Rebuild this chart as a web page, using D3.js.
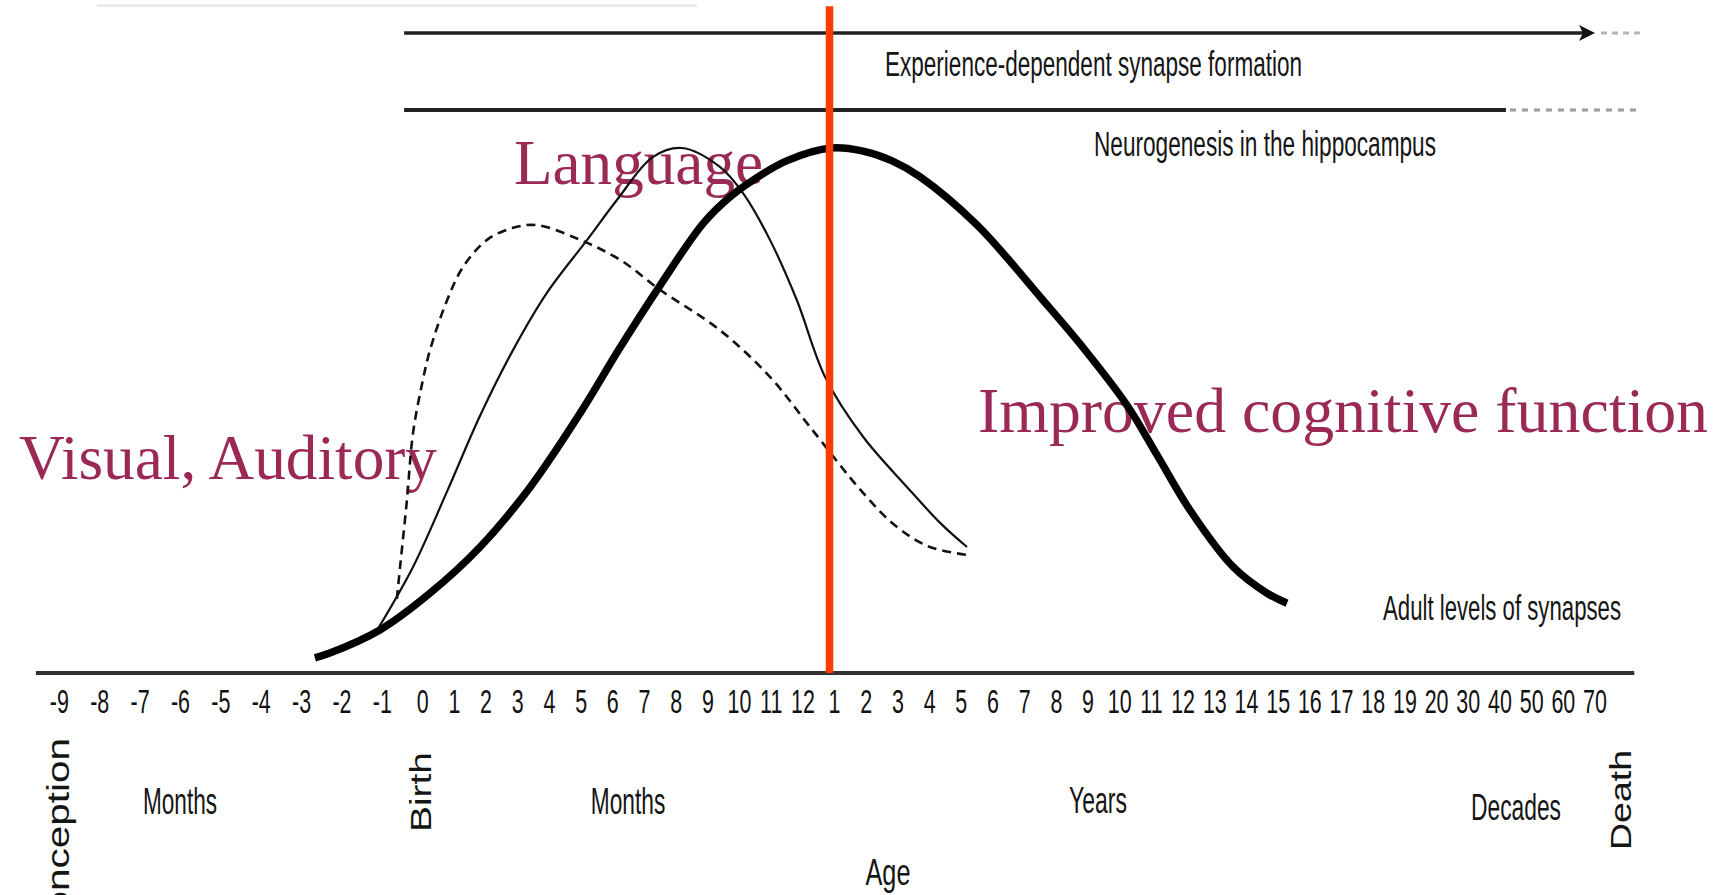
<!DOCTYPE html>
<html>
<head>
<meta charset="utf-8">
<script src="https://cdn.jsdelivr.net/npm/d3@7"></script>
<style>
  html, body { margin: 0; padding: 0; background: #fff; }
  svg { display: block; }
</style>
</head>
<body>
<svg id="chart" width="1721" height="895"></svg>
<script>
// ---------- DATA ----------
// Age axis tick labels (prenatal months, postnatal months, years, decades)
const ageTicks = ["-9","-8","-7","-6","-5","-4","-3","-2","-1","0",
  "1","2","3","4","5","6","7","8","9","10","11","12",
  "1","2","3","4","5","6","7","8","9","10","11","12","13","14","15","16","17","18","19","20",
  "30","40","50","60","70"];

// Curves: [position on age axis (tick index), relative synapse level 0-100]
const sensoryCurve = [ // Visual, Auditory (dashed)
  [8.36,14.1],[8.44,20.2],[8.61,33.0],[8.76,45.7],[8.98,54.9],[9.23,61.5],[9.77,71.0],
  [10.27,77.3],[11.03,82.5],[11.85,84.8],[12.61,85.3],[13.97,82.5],[15.23,78.7],
  [16.49,73.0],[18.38,65.3],[19.96,56.4],[21.22,46.9],[22.90,34.3],[23.97,27.8],
  [25.01,24.0],[26.18,22.5]];
const languageCurve = [ // Language (thin solid)
  [7.89,8.4],[8.76,20.2],[9.77,34.6],[10.81,49.0],[11.85,61.5],[12.92,72.4],[14.19,82.5],
  [15.13,90.1],[16.27,98.3],[17.18,100],[18.38,96.4],[19.11,91.4],[19.96,82.5],
  [20.81,71.0],[21.70,56.4],[22.90,45.0],[24.29,35.4],[25.33,28.6],[26.18,24.0]];
const cognitiveCurve = [ // Higher cognitive function (thick)
  [6.33,2.9],[6.70,3.8],[7.94,8.2],[9.23,15.2],[10.81,24.0],[12.39,35.4],[13.97,49.5],
  [15.23,62.0],[16.49,73.8],[17.86,85.7],[18.70,90.7],[19.43,93.9],[20.50,97.6],
  [21.9,100],[22.9,99.4],[23.8,97.6],[24.70,94.5],[26.50,85.3],[28.58,71.0],
  [29.84,62.0],[31.23,51.0],[32.18,41.5],[33.22,31.0],[34.58,20.2],[35.65,15.2],[36.28,13.3]];

// Annotation spans on the age axis
const experienceSpan = [8.54, 46.0];      // solid with arrow
const experienceDashed = [46.19, 47.46];
const neuroSpan = [8.54, 43.19];
const neuroDashed = [43.19, 47.46];
const axisExtent = [-0.58, 47.24];
const markerAge = 21.84;                  // red vertical marker (~1 year)
const faintSpan = [0.93, 17.66];

// Axis period labels
const periodLabels = [
  {text:"Months", cx:180, y:814, w:74},
  {text:"Months", cx:628, y:814, w:74.5},
  {text:"Years", cx:1098, y:813, w:58},
  {text:"Decades", cx:1516, y:820, w:90},
  {text:"Age", cx:888, y:885, w:45}
];
const verticalLabels = [
  {text:"Birth", cx:420, cy:792, len:80},
  {text:"Death", cx:1620, cy:800, len:100}
];
const lineLabels = [
  {text:"Experience-dependent synapse formation", x:885, y:76, w:417},
  {text:"Neurogenesis in the hippocampus", x:1094, y:156, w:342},
  {text:"Adult levels of synapses", x:1383, y:620, w:238}
];
const curveLabels = [
  {text:"Language", x:514, y:184, w:249},
  {text:"Visual, Auditory", x:19, y:479, w:418},
  {text:"Improved cognitive function", x:978, y:432, w:730}
];

// ---------- SCALES ----------
const svg = d3.select("#chart");
const x = d3.scaleLinear().domain([0, 9, 46]).range([59.3, 422.7, 1595]);
const y = d3.scaleLinear().domain([0, 100]).range([673, 148]);
const lineGen = d3.line().x(d => x(d[0])).y(d => y(d[1])).curve(d3.curveCatmullRom.alpha(0.5));

svg.append("rect").attr("width",1721).attr("height",895).attr("fill","#fff");

// faint artifact line top-left
svg.append("line").attr("x1",x(faintSpan[0])).attr("x2",x(faintSpan[1]))
  .attr("y1",5.5).attr("y2",5.5).attr("stroke","#e2e2e2").attr("stroke-width",2);

// ---------- Top annotation lanes ----------
const laneY1 = 33, laneY2 = 110;
const ax = x(experienceSpan[1]);
svg.append("line").attr("x1",x(experienceSpan[0])).attr("x2",ax - 6)
  .attr("y1",laneY1).attr("y2",laneY1).attr("stroke","#222").attr("stroke-width",3.5);
svg.append("path")
  .attr("d", `M${ax},${laneY1} L${ax-16},${laneY1-8} L${ax-12},${laneY1} L${ax-16},${laneY1+8} Z`)
  .attr("fill","#111");
svg.append("line").attr("x1",x(experienceDashed[0])).attr("x2",x(experienceDashed[1]))
  .attr("y1",laneY1).attr("y2",laneY1).attr("stroke","#b5b5b5").attr("stroke-width",3)
  .attr("stroke-dasharray","6,5");

svg.append("line").attr("x1",x(neuroSpan[0])).attr("x2",x(neuroSpan[1]))
  .attr("y1",laneY2).attr("y2",laneY2).attr("stroke","#222").attr("stroke-width",3.8);
svg.append("line").attr("x1",x(neuroDashed[0]) + 4).attr("x2",x(neuroDashed[1]))
  .attr("y1",laneY2).attr("y2",laneY2).attr("stroke","#9a9a9a").attr("stroke-width",3)
  .attr("stroke-dasharray","6,6");

// ---------- Text (gray, condensed) ----------
const sansFont = "'Liberation Sans', Arial, Helvetica, sans-serif";
lineLabels.forEach(l => {
  svg.append("text").attr("x",l.x).attr("y",l.y).text(l.text)
    .attr("font-family",sansFont).attr("font-size",35).attr("fill","#151515")
    .attr("textLength",l.w).attr("lengthAdjust","spacingAndGlyphs");
});
periodLabels.forEach(l => {
  svg.append("text").attr("x",l.cx - l.w/2).attr("y",l.y).text(l.text)
    .attr("font-family",sansFont).attr("font-size",36).attr("fill","#151515")
    .attr("textLength",l.w).attr("lengthAdjust","spacingAndGlyphs");
});
verticalLabels.forEach(l => {
  svg.append("text")
    .attr("transform",`translate(${l.cx},${l.cy}) scale(0.76,1) rotate(-90)`)
    .attr("x",-l.len/2).attr("y",0).attr("dy","0.36em").text(l.text)
    .attr("font-family",sansFont).attr("font-size",40).attr("fill","#151515")
    .attr("textLength",l.len).attr("lengthAdjust","spacingAndGlyphs");
});
// "Conception" (cut at the bottom edge, as in the source figure)
svg.append("text")
  .attr("transform",`translate(58,738) scale(0.76,1) rotate(-90)`)
  .attr("x",0).attr("y",0).attr("dy","0.36em").attr("text-anchor","end")
  .text("Conception")
  .attr("font-family",sansFont).attr("font-size",40.5).attr("fill","#151515");

// ---------- Maroon labels ----------
curveLabels.forEach(l => {
  svg.append("text").attr("x",l.x).attr("y",l.y).text(l.text)
    .attr("font-family","'Liberation Serif', 'Times New Roman', serif")
    .attr("font-size",64).attr("fill","#9a2955")
    .attr("textLength",l.w).attr("lengthAdjust","spacingAndGlyphs");
});

// ---------- Axis ----------
svg.append("line").attr("x1",x(axisExtent[0])).attr("x2",x(axisExtent[1]))
  .attr("y1",y(0)).attr("y2",y(0)).attr("stroke","#333").attr("stroke-width",4);

const axis = d3.axisBottom(x).tickValues(d3.range(ageTicks.length))
  .tickFormat(i => ageTicks[i]).tickSize(0).tickPadding(0);
const axG = svg.append("g").attr("transform","translate(0,713)").call(axis);
axG.select(".domain").remove();
axG.selectAll("text")
  .attr("y",0).attr("dy",0)
  .attr("transform","scale(0.67,1.03)")
  .attr("font-family",sansFont).attr("font-size",32).attr("fill","#111");
axG.selectAll(".tick").each(function(d){
  d3.select(this).attr("transform",`translate(${x(d)},0)`);
});

// ---------- Curves ----------
svg.append("path").datum(sensoryCurve).attr("d",lineGen)
  .attr("fill","none").attr("stroke","#111").attr("stroke-width",2.6)
  .attr("stroke-dasharray","9,6");
svg.append("path").datum(languageCurve).attr("d",lineGen)
  .attr("fill","none").attr("stroke","#111").attr("stroke-width",2.2);
svg.append("path").datum(cognitiveCurve).attr("d",lineGen)
  .attr("fill","none").attr("stroke","#000").attr("stroke-width",7.5);

// ---------- Red marker ----------
svg.append("line").attr("x1",x(markerAge)).attr("x2",x(markerAge))
  .attr("y1",y(127)).attr("y2",y(0)).attr("stroke","#ff3c00").attr("stroke-width",7.5);
</script>
</body>
</html>
